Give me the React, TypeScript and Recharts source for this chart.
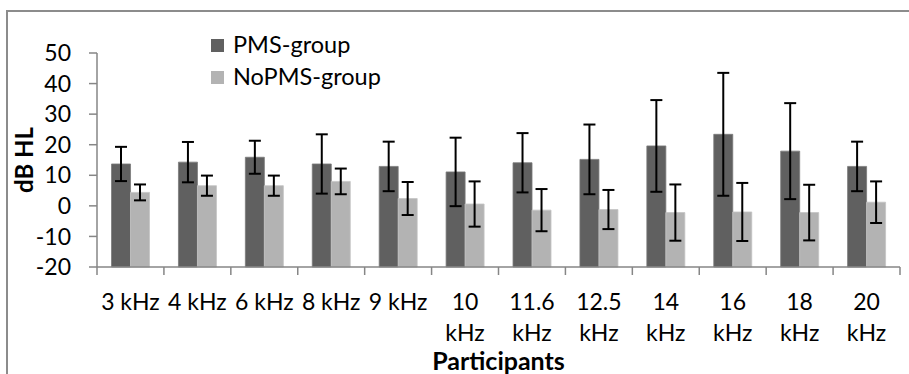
import { Bar, BarChart, ErrorBar, XAxis, YAxis } from 'recharts'

// hearing thresholds per test frequency, mean and SD for each group
const frequencies = ['3 kHz', '4 kHz', '6 kHz', '8 kHz', '9 kHz', '10 kHz', '11.6 kHz', '12.5 kHz', '14 kHz', '16 kHz', '18 kHz', '20 kHz']
const pmsMean = [13.7, 14.3, 15.9, 13.7, 12.9, 11.1, 14.1, 15.2, 19.6, 23.4, 17.9, 12.9]
const pmsSd = [5.6, 6.6, 5.4, 9.7, 8.1, 11.2, 9.7, 11.4, 15.0, 20.1, 15.7, 8.1]
const noPmsMean = [4.4, 6.6, 6.6, 8.0, 2.4, 0.6, -1.4, -1.2, -2.2, -2.0, -2.2, 1.2]
const noPmsSd = [2.6, 3.3, 3.3, 4.2, 5.4, 7.4, 6.9, 6.4, 9.2, 9.5, 9.1, 6.8]
const yTicks = [-20, -10, 0, 10, 20, 30, 40, 50]

const Y_MIN = -20
const Y_MAX = 50

const W = 909
const H = 374
const MARGIN = { top: 53, right: 9, bottom: 0, left: 37 }
const Y_AXIS_W = 60
const PLOT_W = W - MARGIN.left - MARGIN.right - Y_AXIS_W
const FONT = 'Lato, "Open Sans", sans-serif'
const AXIS_GREY = '#868686'

const data = frequencies.map((f, i) => ({
  freq: f,
  pms: pmsMean[i],
  pmsSd: pmsSd[i],
  noPms: noPmsMean[i],
  noPmsSd: noPmsSd[i],
}))

const series = [
  { name: 'PMS-group', color: '#606060' },
  { name: 'NoPMS-group', color: '#b3b3b3' },
]

// category ticks sit on the band edges, labels wrap onto two lines when long
function FreqTick(props: any) {
  const { x, y, payload, index } = props
  const band = PLOT_W / frequencies.length
  const label: string = payload.value
  const lines = label.length > 5 ? label.split(' ') : [label]
  const left = x - band / 2
  return (
    <g>
      <line x1={left} x2={left} y1={y} y2={y + 8} stroke={AXIS_GREY} strokeWidth={1.5} />
      {index === frequencies.length - 1 && (
        <line x1={left + band} x2={left + band} y1={y} y2={y + 8} stroke={AXIS_GREY} strokeWidth={1.5} />
      )}
      {lines.map((t, i) => (
        <text key={i} x={x} y={y + 35 + i * 31} dy="0.35em" textAnchor="middle" fill="#000" fontSize={23} fontFamily={FONT}>
          {t}
        </text>
      ))}
    </g>
  )
}

function LegendBox() {
  return (
    <div style={{ position: 'absolute', left: 211, top: 29, fontFamily: FONT, fontSize: 23.5, color: '#000', lineHeight: 1 }}>
      {series.map((s) => (
        <div key={s.name} style={{ display: 'flex', alignItems: 'center', height: 32 }}>
          <span style={{ display: 'inline-block', width: 13, height: 13, background: s.color, marginRight: 9 }} />
          <span>{s.name}</span>
        </div>
      ))}
    </div>
  )
}

export default function App() {
  return (
    <div style={{ position: 'absolute', left: 0, top: 0, width: W, height: H, overflow: 'hidden', background: '#fff' }}>
      {/* chart frame, only its top and left edges fall inside the view */}
      <div style={{ position: 'absolute', left: 6, top: 10, width: 1200, height: 800, border: '2px solid #8c8c8c' }} />
      <BarChart
        width={W}
        height={H}
        data={data}
        margin={MARGIN}
        barCategoryGap="21.7%"
        barGap={0}
        style={{ position: 'absolute', left: 0, top: 0 }}
      >
        <XAxis
          dataKey="freq"
          height={107}
          interval={0}
          tickLine={false}
          tickSize={0}
          tickMargin={0}
          tick={<FreqTick />}
          axisLine={{ stroke: AXIS_GREY, strokeWidth: 1.5 }}
          label={{
            content: (p: any) => {
              const vb = p.viewBox
              return (
                <text x={vb.x + vb.width / 2} y={vb.y + 94} dy="0.35em" textAnchor="middle" fontWeight="bold" fontSize={25} fontFamily={FONT} fill="#000">
                  Participants
                </text>
              )
            },
          }}
        />
        <YAxis
          width={Y_AXIS_W}
          domain={[Y_MIN, Y_MAX]}
          ticks={yTicks}
          interval={0}
          tickSize={8}
          tickMargin={18}
          tickLine={{ stroke: AXIS_GREY, strokeWidth: 1.5 }}
          axisLine={{ stroke: AXIS_GREY, strokeWidth: 1.5 }}
          tick={{ fill: '#000', fontSize: 23, fontFamily: FONT }}
          label={{
            content: (p: any) => {
              const vb = p.viewBox
              const cx = vb.x - 12
              const cy = vb.y + vb.height / 2
              return (
                <text x={cx} y={cy} dy="0.35em" textAnchor="middle" fontWeight="bold" fontSize={24} fontFamily={FONT} fill="#000" transform={`rotate(-90, ${cx}, ${cy})`}>
                  dB HL
                </text>
              )
            },
          }}
        />
        {/* bars rise from the bottom of the axis, as in the spreadsheet original */}
        <Bar
          name={series[0].name}
          dataKey={(d: any) => [Y_MIN, d.pms]}
          fill={series[0].color}
          stroke="#7a7a7a"
          strokeWidth={0.8}
          isAnimationActive={false}
        >
          <ErrorBar dataKey="pmsSd" width={6} stroke="#000" strokeWidth={2} direction="y" />
        </Bar>
        <Bar
          name={series[1].name}
          dataKey={(d: any) => [Y_MIN, d.noPms]}
          fill={series[1].color}
          stroke="#c4c4c4"
          strokeWidth={0.8}
          isAnimationActive={false}
        >
          <ErrorBar dataKey="noPmsSd" width={6} stroke="#000" strokeWidth={2} direction="y" />
        </Bar>
      </BarChart>
      <LegendBox />
    </div>
  )
}
